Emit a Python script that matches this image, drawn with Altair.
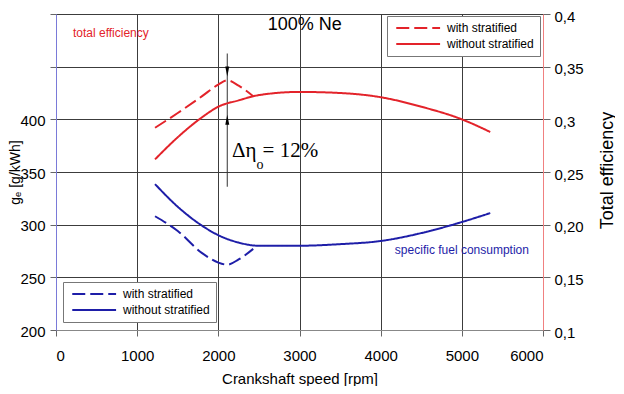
import altair as alt
import pandas as pd

# ---------------- data ----------------
series_labels = ["with stratified", "without stratified"]

speed_with = [1220, 1500, 1800, 2000, 2110, 2250, 2430]
eff_with = [0.292, 0.306, 0.322, 0.333, 0.337, 0.332, 0.322]
sfc_with = [308, 294, 273, 264, 262, 267, 277]

speed_without = [1220, 1500, 1800, 2000, 2250, 2500, 3000, 3500, 4000, 4500, 5000, 5350]
eff_without = [0.262, 0.283, 0.302, 0.312, 0.318, 0.323, 0.326, 0.325, 0.321, 0.312, 0.300, 0.288]
sfc_without = [338.5, 317, 299, 290, 283, 280, 280, 281.5, 284.5, 292, 302.5, 311]

x_ticks = [0, 1000, 2000, 3000, 4000, 5000, 6000]
left_ticks = [200, 250, 300, 350, 400, 450, 500]
right_ticks = [0.1, 0.15, 0.2, 0.25, 0.3, 0.35, 0.4]
right_tick_labels = ["0,1", "0,15", "0,20", "0,25", "0,3", "0,35", "0,4"]

RED = "#e3232a"
BLUE = "#1e1ea8"
FONT = "Liberation Sans"
PLOT_H = 316

eff_df = pd.DataFrame({
    "speed": speed_with + speed_without,
    "value": eff_with + eff_without,
    "series": [series_labels[0]] * len(speed_with) + [series_labels[1]] * len(speed_without),
})
sfc_df = pd.DataFrame({
    "speed": speed_with + speed_without,
    "value": sfc_with + sfc_without,
    "series": [series_labels[0]] * len(speed_with) + [series_labels[1]] * len(speed_without),
})


def xenc():
    return alt.X(
        "speed:Q",
        scale=alt.Scale(domain=[0, 6000], nice=False, zero=False),
        axis=alt.Axis(
            values=x_ticks, title="Crankshaft speed [rpm]", format="d",
            grid=True, gridColor="#3c3c3c", gridOpacity=1,
            domainColor="#888", tickColor="#666", tickSize=6,
            labelPadding=12, labelFontSize=15, labelFont=FONT, labelColor="black",
            titleFont=FONT, titleFontSize=15, titleFontWeight="normal",
            titleColor="black", titlePadding=8,
        ),
    )


def yleft():
    return alt.Y(
        "value:Q",
        scale=alt.Scale(domain=[200, 500], nice=False, zero=False),
        axis=alt.Axis(
            values=left_ticks, title="gₑ [g/kWh]",
            labelExpr="datum.value <= 400 ? datum.label : ''",
            grid=True, gridColor="#3c3c3c", gridOpacity=1,
            domainColor="#7a7ad8", tickColor="#666", tickSize=6,
            labelPadding=5, labelFontSize=15, labelFont=FONT, labelColor="black",
            labelOffset=1,
            titleFont=FONT, titleFontSize=14, titleFontWeight="normal",
            titleColor="black", titleX=-41, titleY=PLOT_H / 2, titleAngle=270,
            titleAlign="center", titleBaseline="middle",
        ),
    )


def yright():
    expr = "[" + ",".join("'%s'" % s for s in right_tick_labels) + "][round((datum.value-0.1)/0.05)]"
    return alt.Y(
        "value:Q",
        scale=alt.Scale(domain=[0.1, 0.4], nice=False, zero=False),
        axis=alt.Axis(
            orient="right", values=right_ticks, title="Total efficiency",
            labelExpr=expr, grid=False,
            domainColor="#f08080", tickColor="#666", tickSize=7,
            labelPadding=4, labelFontSize=15, labelFont=FONT, labelColor="black",
            labelOffset=2,
            titleFont=FONT, titleFontSize=18, titleFontWeight="normal",
            titleColor="black", titleX=64, titleY=PLOT_H / 2 - 2, titleAngle=270,
            titleAlign="center", titleBaseline="middle",
        ),
    )


dash_scale = alt.Scale(domain=series_labels, range=[[13, 5], [1, 0]])


def legend(color, lx, ly):
    return alt.Legend(
        title=None, orient="none", legendX=lx, legendY=ly,
        symbolType="M-1,0H15", symbolStrokeColor=color, symbolStrokeWidth=2,
        symbolSize=30, labelFontSize=12, labelFont=FONT, labelColor="black",
        strokeColor="#777", fillColor="white", padding=6, rowPadding=4,
        labelOffset=42,
    )


# ---------------- left scale: specific fuel consumption ----------------
sfc_lines = alt.Chart(sfc_df).mark_line(color=BLUE, strokeWidth=2, interpolate="monotone").encode(
    x=xenc(), y=yleft(),
    strokeDash=alt.StrokeDash("series:N", scale=dash_scale, legend=legend(BLUE, 7, 268)),
)


def text_layer(speed, value, txt, **kw):
    df = pd.DataFrame({"speed": [speed], "value": [value], "t": [txt]})
    return alt.Chart(df).mark_text(**kw).encode(x=xenc(), y=yleft(), text="t:N")


t_total = text_layer(209, 482, "total efficiency", color=RED, font=FONT, fontSize=12,
                     align="left", baseline="middle")
t_sfc = text_layer(4175, 276, "specific fuel consumption", color=BLUE, font=FONT,
                   fontSize=12, align="left", baseline="middle")
t_ne = text_layer(3066, 490, "100% Ne", color="black", font=FONT, fontSize=18,
                  align="center", baseline="middle")
t_delta = text_layer(2167, 364, "Δη", color="black", font="Liberation Serif",
                     fontSize=21, align="left", baseline="alphabetic")
t_sub = text_layer(2470, 353, "o", color="black", font="Liberation Serif",
                   fontSize=14, align="left", baseline="alphabetic")
t_pct = text_layer(2545, 364, "= 12%", color="black", font="Liberation Serif",
                   fontSize=21, align="left", baseline="alphabetic")

arrow_df = pd.DataFrame({"speed": [2110], "value": [462.5], "value2": [336]})
arrow_line = alt.Chart(arrow_df).mark_rule(color="#333", strokeWidth=1).encode(
    x=xenc(), y=yleft(), y2="value2:Q")
head_down = alt.Chart(pd.DataFrame({"speed": [2110], "value": [445.5]})).mark_point(
    shape="M-0.4,-1L0.4,-1L0,1Z", filled=True, color="black", size=100, opacity=1
).encode(x=xenc(), y=yleft())
head_up = alt.Chart(pd.DataFrame({"speed": [2110], "value": [399.5]})).mark_point(
    shape="M-0.4,1L0.4,1L0,-1Z", filled=True, color="black", size=100, opacity=1
).encode(x=xenc(), y=yleft())

left_layer = alt.layer(sfc_lines, arrow_line, head_down, head_up,
                       t_total, t_sfc, t_ne, t_delta, t_sub, t_pct)

# ---------------- right scale: total efficiency ----------------
eff_lines = alt.Chart(eff_df).mark_line(color=RED, strokeWidth=2, interpolate="monotone").encode(
    x=xenc(), y=yright(),
    strokeDash=alt.StrokeDash("series:N", scale=dash_scale, legend=legend(RED, 331, 2)),
)
right_layer = alt.layer(eff_lines)

chart = alt.layer(left_layer, right_layer).resolve_scale(
    y="independent", strokeDash="independent"
).properties(
    width=487, height=PLOT_H,
    padding={"left": 48, "top": 6, "right": 72, "bottom": 56},
    autosize=alt.AutoSizeParams(type="none"),
    background="white",
).configure_view(stroke="#888", strokeWidth=1)

chart.save("out.html", embed_options={"renderer": "svg", "actions": False})
